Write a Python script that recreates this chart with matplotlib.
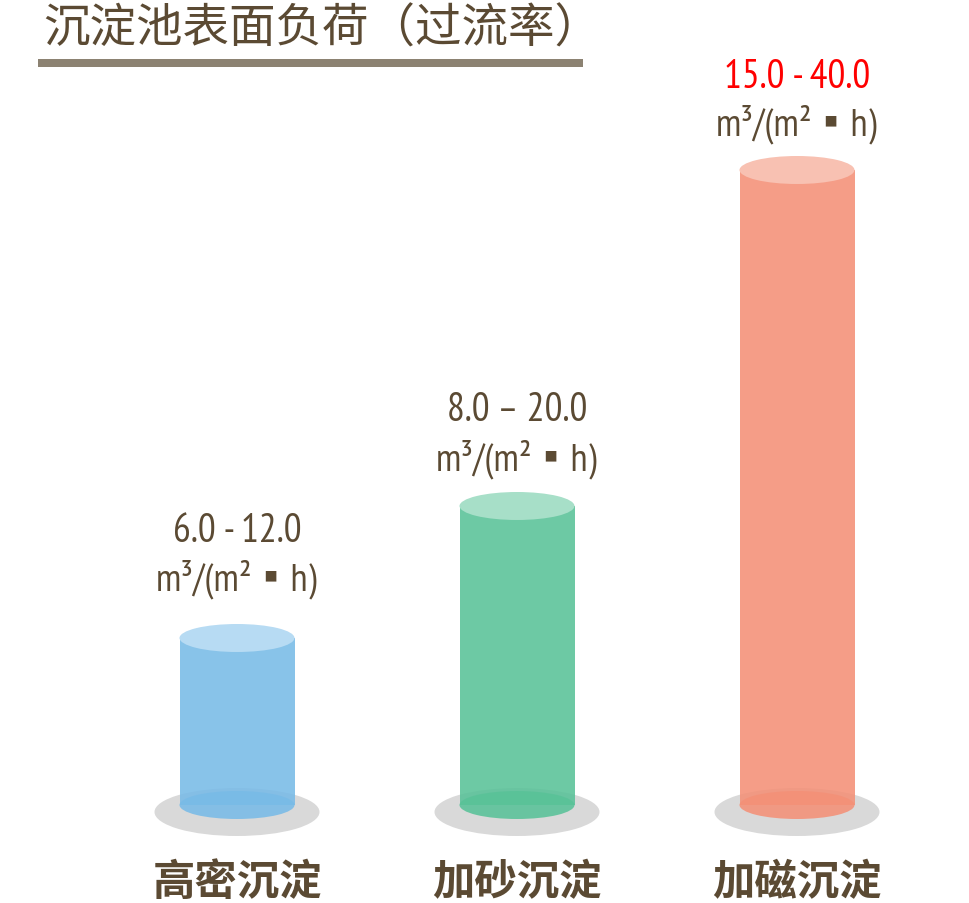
import matplotlib
matplotlib.use("Agg")
import matplotlib.pyplot as plt
from matplotlib.patches import Ellipse, Rectangle

categories = ["高密沉淀", "加砂沉淀", "加磁沉淀"]
range_labels = ["6.0 - 12.0", "8.0 – 20.0", "15.0 - 40.0"]
unit_label = "m³/(m²▪h)"
bar_heights = [167, 299, 635]   # visual cylinder heights (display units)
title = "沉淀池表面负荷（过流率）"

body_colors = ["#78BBE7", "#59C298", "#F49077"]
top_colors = ["#B7DBF3", "#A7DFC8", "#F8C1B2"]
range_colors = ["#5B4A33", "#5B4A33", "#FF0000"]
text_color = "#5B4A33"
unit_gap = [60, 48, 47]      # label offsets above cylinder top (px)
range_gap = [107, 96, 94]

W, H = 969, 904
fig = plt.figure(figsize=(W / 100, H / 100), dpi=100)
ax = fig.add_axes([0, 0, 1, 1])
px_per_x = 280.0
x0_px = 237.0
base_px = 806.0
ax.set_xlim(-x0_px / px_per_x, (W - x0_px) / px_per_x)
ax.set_ylim(-(H - base_px), base_px)
ax.axis("off")

num_font = ["PT Sans Narrow", "Noto Sans CJK SC", "DejaVu Sans"]
cjk_font = ["Noto Sans CJK SC", "DejaVu Sans"]

bw = 115 / px_per_x
ell_h = 28
for i, (h, bc, tc) in enumerate(zip(bar_heights, body_colors, top_colors)):
    ax.add_patch(Ellipse((i, -7), 165 / px_per_x, 48, color="#D9D9D9", zorder=1, lw=0))
    ax.add_patch(Rectangle((i - bw / 2, 0), bw, h, color=bc, alpha=0.88, zorder=2, lw=0))
    ax.add_patch(Ellipse((i, 0), bw, ell_h, color=bc, alpha=0.88, zorder=2, lw=0))
    ax.add_patch(Ellipse((i, h), bw, ell_h, color=tc, zorder=3, lw=0))
    ax.annotate(unit_label, (i, h), xytext=(0, unit_gap[i]), textcoords="offset pixels",
                ha="center", va="center", fontsize=28, color=text_color, family=num_font)
    ax.annotate(range_labels[i], (i, h), xytext=(0, range_gap[i]), textcoords="offset pixels",
                ha="center", va="center", fontsize=28.5, color=range_colors[i], family=num_font)
    ax.annotate(categories[i], (i, 0), xytext=(0, -77), textcoords="offset pixels",
                ha="center", va="center", fontsize=30.5, color=text_color,
                family=cjk_font, weight="heavy")

fig.text(43 / W, 1 - 29 / H, title, ha="left", va="center", fontsize=33.5,
         color=text_color, family=cjk_font)
fig.add_artist(Rectangle((38 / W, 1 - 68 / H), (583 - 38) / W, 8 / H,
                         transform=fig.transFigure, color="#8C8272", lw=0))

fig.savefig("out.png", dpi=100, facecolor="white")
